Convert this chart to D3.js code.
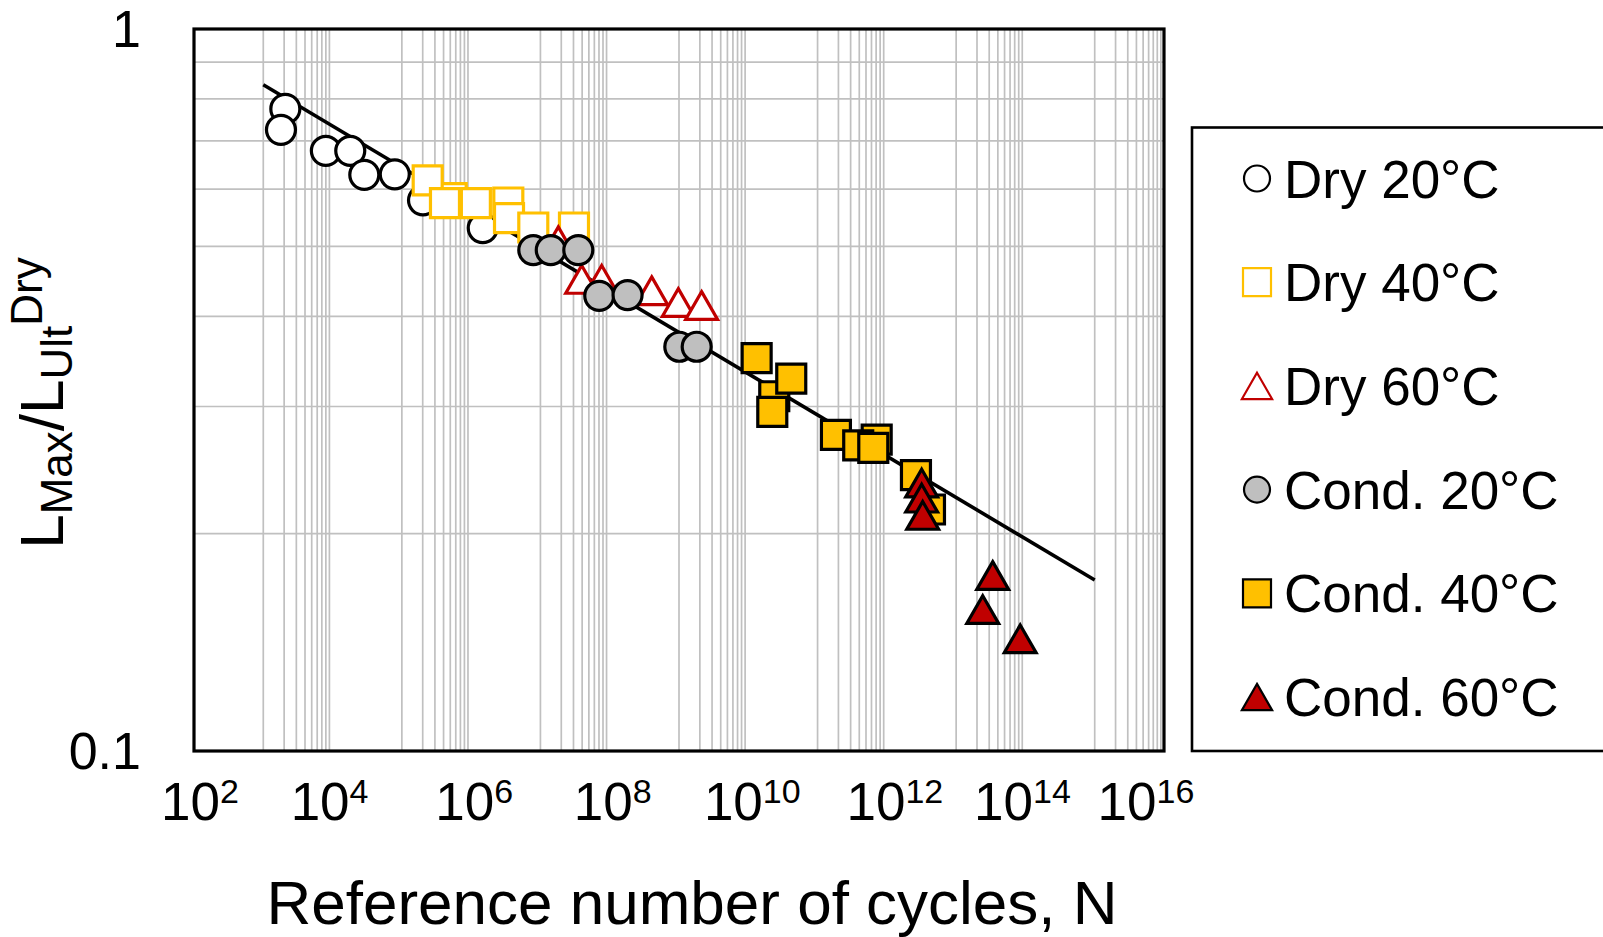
<!DOCTYPE html>
<html>
<head>
<meta charset="utf-8">
<script src="https://cdn.jsdelivr.net/npm/d3@7"></script>
<style>
  body { margin: 0; background: #fff; }
  svg { display: block; }
  text { font-family: "Liberation Sans", Arial, Helvetica, sans-serif; fill: #000; }
</style>
</head>
<body>
<svg id="chart" width="1603" height="937"></svg>
<script>
// ---- Data: reference number of cycles N and normalised max load ----
const seriesNames = ["Dry 20°C", "Dry 40°C", "Dry 60°C", "Cond. 20°C", "Cond. 40°C", "Cond. 60°C"];

const dry20N = [2.08e3, 1.80e3, 8.0e3, 1.80e4, 2.87e4, 7.9e4, 2.02e5, 1.47e6];
const dry20L = [0.775, 0.725, 0.678, 0.678, 0.628, 0.629, 0.579, 0.530];

const dry40N = [5.24e5, 2.36e5, 4.19e5, 1.17e6, 3.44e6, 3.52e6, 7.89e6, 3.05e7];
const dry40L = [0.583, 0.617, 0.574, 0.574, 0.575, 0.547, 0.531, 0.531];

const dry60N = [1.81e7, 3.94e7, 7.66e7, 4.04e8, 9.77e8, 2.12e9];
const dry60L = [0.509, 0.450, 0.450, 0.434, 0.418, 0.414];

const cond20N = [7.89e6, 1.41e7, 3.52e7, 7.06e7, 1.81e8, 1.01e9, 1.80e9];
const cond20L = [0.494, 0.494, 0.494, 0.427, 0.428, 0.363, 0.363];

const cond40N = [1.32e10, 2.37e10, 4.17e10, 2.22e10, 1.84e11, 7.13e11, 3.86e11, 6.37e11, 4.19e12, 2.63e12];
const cond40L = [0.350, 0.310, 0.328, 0.295, 0.274, 0.270, 0.265, 0.263, 0.216, 0.241];

const cond60N = [3.18e12, 3.18e12, 3.29e12, 3.37e13, 2.42e13, 8.41e13];
const cond60L = [0.235, 0.224, 0.212, 0.175, 0.157, 0.143];

// Power-law fit line end points
const fitN = [1e3, 1e15];
const fitL = [0.837, 0.1725];

// Axis tick labels
const xTickExponents = [2, 4, 6, 8, 10, 12, 14, 16];
const yTickValues = [0.1, 1];
const yTickLabels = ["0.1", "1"];

// ---- Layout ----
const W = 1603, H = 937;
const plot = { left: 194, right: 1164, top: 29, bottom: 751 };
const xLabelNudge = [6, -3, 3, 3, 4, 8, -3, -18];

const svg = d3.select("#chart");
svg.append("rect").attr("width", W).attr("height", H).attr("fill", "#fff");

const x = d3.scaleLog().domain([1e2, 1e16]).range([plot.left, plot.right]);
const y = d3.scaleLog().domain([0.1, 1]).range([plot.bottom, plot.top]);

// ---- Gridlines (log base 100 on x: minor lines at 1..9 x 10^odd) ----
const xGrid = [];
for (let e = 3; e <= 15; e += 2) for (let k = 1; k <= 9; k++) xGrid.push(k * Math.pow(10, e));
const yGrid = [0.2, 0.3, 0.4, 0.5, 0.6, 0.7, 0.8, 0.9];

const grid = svg.append("g").attr("stroke", "#c0c0c0").attr("stroke-width", 1.7);
grid.selectAll("line.v").data(xGrid).join("line")
  .attr("x1", d => x(d)).attr("x2", d => x(d))
  .attr("y1", plot.top).attr("y2", plot.bottom);
grid.selectAll("line.h").data(yGrid).join("line")
  .attr("y1", d => y(d)).attr("y2", d => y(d))
  .attr("x1", plot.left).attr("x2", plot.right);

// ---- Fit line ----
const fitPts = fitN.map((n, i) => [n, fitL[i]]);
svg.append("path")
  .attr("d", d3.line().x(d => x(d[0])).y(d => y(d[1]))(fitPts))
  .attr("fill", "none").attr("stroke", "#000").attr("stroke-width", 3.6);

// ---- Marker shapes ----
const shapes = {
  circle: s => { const r = s / 2; return `M${-r},0A${r},${r},0,1,1,${r},0A${r},${r},0,1,1,${-r},0Z`; },
  square: s => { const h = s / 2; return `M${-h},${-h}H${h}V${h}H${-h}Z`; },
  triangle: s => { const w = s * 0.54, h = s * 0.47; return `M0,${-h}L${w},${h}L${-w},${h}Z`; }
};

const series = [
  { name: seriesNames[0], N: dry20N, L: dry20L, shape: "circle",   size: 29,   fill: "#ffffff", stroke: "#000000" },
  { name: seriesNames[1], N: dry40N, L: dry40L, shape: "square",   size: 29,   fill: "#ffffff", stroke: "#ffc000" },
  { name: seriesNames[2], N: dry60N, L: dry60L, shape: "triangle", size: 29.5, fill: "#ffffff", stroke: "#c00000" },
  { name: seriesNames[3], N: cond20N, L: cond20L, shape: "circle",   size: 29,   fill: "#bfbfbf", stroke: "#000000" },
  { name: seriesNames[4], N: cond40N, L: cond40L, shape: "square",   size: 29,   fill: "#ffc000", stroke: "#000000" },
  { name: seriesNames[5], N: cond60N, L: cond60L, shape: "triangle", size: 29.5, fill: "#c00000", stroke: "#000000" }
];

const marks = svg.append("g");
series.forEach(s => {
  const pts = s.N.map((n, i) => ({ n, l: s.L[i] }));
  marks.append("g").selectAll("path").data(pts).join("path")
    .attr("transform", d => `translate(${x(d.n)},${y(d.l)})`)
    .attr("d", shapes[s.shape](s.size))
    .attr("fill", s.fill).attr("stroke", s.stroke)
    .attr("stroke-width", 3.2).attr("stroke-linejoin", "miter");
});

// ---- Plot border ----
svg.append("rect")
  .attr("x", plot.left).attr("y", plot.top)
  .attr("width", plot.right - plot.left).attr("height", plot.bottom - plot.top)
  .attr("fill", "none").attr("stroke", "#000").attr("stroke-width", 3.2);

// ---- X tick labels (10^n) ----
const xt = svg.append("g");
xTickExponents.forEach((e, i) => {
  const t = xt.append("text")
    .attr("x", x(Math.pow(10, e)) + xLabelNudge[i]).attr("y", 820)
    .attr("text-anchor", "middle").attr("font-size", 53);
  t.append("tspan").text("10");
  t.append("tspan").attr("font-size", 34).attr("dy", -17).text(String(e));
});

// ---- Y tick labels ----
svg.append("g").selectAll("text").data(yTickValues).join("text")
  .attr("x", 141).attr("y", d => y(d) + 18)
  .attr("text-anchor", "end").attr("font-size", 52)
  .text((d, i) => yTickLabels[i]);

// ---- Axis titles ----
svg.append("text")
  .attr("x", 692).attr("y", 924)
  .attr("text-anchor", "middle").attr("font-size", 62)
  .text("Reference number of cycles, N");

const yt = svg.append("text")
  .attr("transform", "translate(63,403) rotate(-90)")
  .attr("text-anchor", "middle").attr("font-size", 62);
yt.append("tspan").text("L");
yt.append("tspan").attr("font-size", 44).attr("dy", 9).text("Max");
yt.append("tspan").attr("dy", -9).text("/L");
yt.append("tspan").attr("font-size", 44).attr("dy", 9).text("Ult");
yt.append("tspan").attr("font-size", 44).attr("dy", -30).text("Dry");

// ---- Legend ----
svg.append("rect")
  .attr("x", 1192).attr("y", 127.5).attr("width", 430).attr("height", 751 - 127.5)
  .attr("fill", "#fff").attr("stroke", "#000").attr("stroke-width", 2.6);

const legend = svg.append("g");
series.forEach((s, i) => {
  const cy = 178.5 + i * 103.7;
  legend.append("path")
    .attr("transform", `translate(1257,${cy})`)
    .attr("d", shapes[s.shape](s.shape === "circle" ? 26 : 28))
    .attr("fill", s.fill).attr("stroke", s.stroke).attr("stroke-width", 2.2);
  legend.append("text")
    .attr("x", 1284).attr("y", cy + 19)
    .attr("font-size", 53)
    .text(s.name);
});
</script>
</body>
</html>
